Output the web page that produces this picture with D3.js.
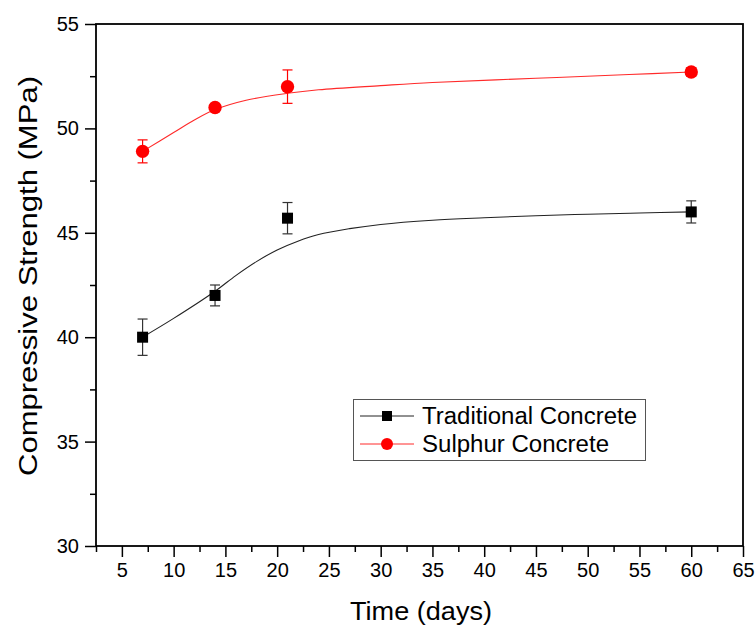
<!DOCTYPE html>
<html>
<head>
<meta charset="utf-8">
<script src="https://cdn.jsdelivr.net/npm/d3@7"></script>
<style>
  html, body { margin: 0; padding: 0; background: #fff; }
  svg { display: block; font-family: "Liberation Sans", Arial, sans-serif; }
</style>
</head>
<body>
<svg id="chart" width="755" height="630"></svg>
<script>
// ---- data ----
const days = [7, 14, 21, 60];
const traditional = [40.0, 42.0, 45.7, 46.0];
const traditionalErr = [0.87, 0.5, 0.75, 0.53];
const sulphur = [48.9, 51.0, 52.0, 52.7];
const sulphurErr = [0.55, 0.1, 0.8, 0.2];

// fitted curves
const traditionalFitX = [7, 10, 14, 16, 18, 20, 22, 24, 27, 30, 35, 40, 45, 50, 55, 60];
const traditionalFitY = [40.0, 40.9, 42.2, 42.95, 43.62, 44.18, 44.6, 44.92, 45.2, 45.4, 45.6, 45.72, 45.82, 45.89, 45.95, 46.0];
const sulphurFitX = [7, 10, 12, 14, 17, 21, 24, 30, 35, 45, 54, 60];
const sulphurFitY = [48.9, 49.8, 50.4, 50.9, 51.35, 51.68, 51.85, 52.05, 52.2, 52.4, 52.58, 52.7];

const xTickValues = [5, 10, 15, 20, 25, 30, 35, 40, 45, 50, 55, 60, 65];
const yTickValues = [30, 35, 40, 45, 50, 55];
const seriesNames = ["Traditional Concrete", "Sulphur Concrete"];

// ---- layout ----
const svg = d3.select("#chart");
const L = 96, R = 743, T = 24, B = 546;
const x = d3.scaleLinear().domain([2.5, 65]).range([L, R]);
const y = d3.scaleLinear().domain([30, 55]).range([B, T]);

const black = "#000";
const red = "#ff0000";

// minor ticks
const xMinor = d3.range(2.5, 65.01, 2.5).filter(v => !xTickValues.includes(v));
const yMinor = d3.range(30, 55.01, 2.5).filter(v => !yTickValues.includes(v));

const xAxis = d3.axisBottom(x).tickValues(xTickValues).tickSize(11).tickPadding(6).tickFormat(d3.format("d"));
const yAxis = d3.axisLeft(y).tickValues(yTickValues).tickSize(11).tickPadding(6).tickFormat(d3.format("d"));
const xAxisMinor = d3.axisBottom(x).tickValues(xMinor).tickSize(6).tickFormat("");
const yAxisMinor = d3.axisLeft(y).tickValues(yMinor).tickSize(6).tickFormat("");

function styleAxis(g) {
  g.select(".domain").remove();
  g.selectAll(".tick line").attr("stroke", black).attr("stroke-width", 1.5);
  g.selectAll(".tick text").attr("fill", black).style("font-size", "20px")
    .style("font-family", "Liberation Sans, Arial, sans-serif");
}

svg.append("g").attr("transform", `translate(0,${B})`).call(xAxis).call(styleAxis);
svg.append("g").attr("transform", `translate(0,${B})`).call(xAxisMinor).call(styleAxis);
svg.append("g").attr("transform", `translate(${L},0)`).call(yAxis).call(styleAxis);
svg.append("g").attr("transform", `translate(${L},0)`).call(yAxisMinor).call(styleAxis);

// frame
svg.append("rect").attr("x", L).attr("y", T).attr("width", R - L).attr("height", B - T)
  .attr("fill", "none").attr("stroke", black).attr("stroke-width", 1.8);

// axis titles
svg.append("text").attr("x", 421).attr("y", 620).attr("text-anchor", "middle")
  .style("font-size", "26px").attr("fill", black)
  .attr("textLength", 142).attr("lengthAdjust", "spacingAndGlyphs").text("Time (days)");
svg.append("text").attr("transform", `translate(37,276) rotate(-90)`)
  .attr("text-anchor", "middle").style("font-size", "26px").attr("fill", black)
  .attr("textLength", 400).attr("lengthAdjust", "spacingAndGlyphs")
  .text("Compressive Strength (MPa)");

// fitted curves
const line = d3.line().x(d => x(d[0])).y(d => y(d[1])).curve(d3.curveCatmullRom.alpha(0.5));
svg.append("path").datum(d3.zip(traditionalFitX, traditionalFitY)).attr("d", line)
  .attr("fill", "none").attr("stroke", "#222").attr("stroke-width", 1.1);
svg.append("path").datum(d3.zip(sulphurFitX, sulphurFitY)).attr("d", line)
  .attr("fill", "none").attr("stroke", "#ff2a2a").attr("stroke-width", 1.1);

// error bars
function errorBars(vals, errs, color) {
  const g = svg.append("g").attr("stroke", color).attr("stroke-width", 1.2);
  days.forEach((d, i) => {
    const cx = x(d), y1 = y(vals[i] + errs[i]), y2 = y(vals[i] - errs[i]);
    g.append("line").attr("x1", cx).attr("x2", cx).attr("y1", y1).attr("y2", y2);
    g.append("line").attr("x1", cx - 5).attr("x2", cx + 5).attr("y1", y1).attr("y2", y1);
    g.append("line").attr("x1", cx - 5).attr("x2", cx + 5).attr("y1", y2).attr("y2", y2);
  });
}
errorBars(traditional, traditionalErr, "#333");
errorBars(sulphur, sulphurErr, red);

// markers
const sq = 11;
svg.append("g").selectAll("rect").data(d3.zip(days, traditional)).join("rect")
  .attr("x", d => x(d[0]) - sq / 2).attr("y", d => y(d[1]) - sq / 2)
  .attr("width", sq).attr("height", sq).attr("fill", black);
svg.append("g").selectAll("circle").data(d3.zip(days, sulphur)).join("circle")
  .attr("cx", d => x(d[0])).attr("cy", d => y(d[1])).attr("r", 6.7).attr("fill", red);

// legend
const lg = svg.append("g");
lg.append("rect").attr("x", 353.5).attr("y", 399.5).attr("width", 292).attr("height", 61)
  .attr("fill", "#fff").attr("stroke", "#555").attr("stroke-width", 1);
const rows = [416, 444];
seriesNames.forEach((name, i) => {
  const cy = rows[i], color = i === 0 ? "#222" : "#ff2a2a";
  lg.append("line").attr("x1", 360).attr("x2", 414).attr("y1", cy).attr("y2", cy)
    .attr("stroke", color).attr("stroke-width", 1);
  if (i === 0) {
    lg.append("rect").attr("x", 387 - 5).attr("y", cy - 5).attr("width", 10).attr("height", 10).attr("fill", black);
  } else {
    lg.append("circle").attr("cx", 387).attr("cy", cy).attr("r", 6).attr("fill", red);
  }
  lg.append("text").attr("x", 422).attr("y", cy).attr("dy", "0.36em")
    .style("font-size", "23px").attr("fill", black)
    .attr("textLength", i === 0 ? 215 : 187).attr("lengthAdjust", "spacingAndGlyphs").text(name);
});
</script>
</body>
</html>
